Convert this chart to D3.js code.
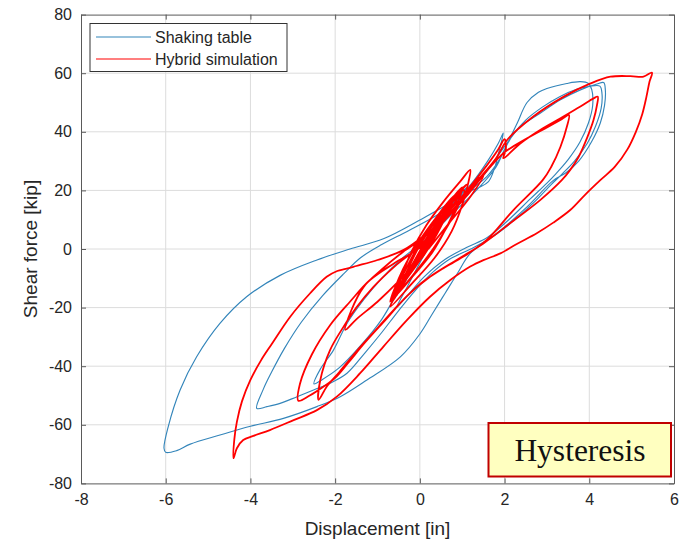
<!DOCTYPE html>
<html><head><meta charset="utf-8">
<script src="https://cdn.jsdelivr.net/npm/d3@7"></script>
<style>body{margin:0;background:#fff} svg{display:block}</style>
</head><body>
<svg id="c" width="690" height="542"></svg>
<script>
// ---- data ----
const xTicks = [-8,-6,-4,-2,0,2,4,6];
const yTicks = [-80,-60,-40,-20,0,20,40,60,80];
const seriesNames = ["Shaking table","Hybrid simulation"];
const xLabel = "Displacement [in]";
const yLabel = "Shear force [kip]";
const noteText = "Hysteresis";

// Shaking table: displacement [in], shear [kip]
const shakingTable = [
[0,0],[0.3,7],[0.6,13],[0.85,18],[0.7,15],[0.35,7],[0,-1],[-0.3,-9],[-0.45,-14],[-0.3,-10],[0.1,1],[0.5,10],[0.9,17],[1.1,21],[0.85,17],[0.4,7],[-0.1,-5],[-0.45,-13],[-0.6,-17],[-0.4,-11],[0,-1],[0.45,9],[0.8,16],
[1.2,22],[1.6,30],[1.85,36],[1.97,39.6],[1.88,34],[1.75,27],[1.62,23],[1.4,21],[1.15,19.5],[0.7,13],[0.3,5],[-0.1,-4],[-0.5,-14],[-0.9,-24],[-1.4,-33],[-1.9,-40.5],[-2.3,-44.5],[-2.5,-46],
[-2.35,-41],[-2.04,-34.5],[-1.72,-25.4],[-1.33,-17.4],[-0.9,-10],[-0.4,-3],[0.2,4],[0.8,12.5],[1.4,21],[1.8,28],[2.0,34],[2.2,39],[2.5,44],[2.9,48.5],[3.3,52],[3.7,54.5],[4.0,55.5],[4.25,55.6],
[4.3,53],[4.28,48],[4.15,42],[3.95,36],[3.65,30],[3.35,25.5],[3.1,22],[2.7,16],[2.2,9.5],[1.7,4],[1.2,0],[0.7,-3.5],[0.3,-8],[-0.1,-14],[-0.5,-21],[-0.9,-28.5],[-1.3,-35.5],[-1.72,-42.4],[-2.12,-45.8],[-2.51,-48.1],[-2.9,-50.4],[-3.3,-52.7],[-3.61,-53.8],[-3.85,-54.4],
[-3.7,-48],[-3.5,-42],[-3.2,-34],[-2.8,-25],[-2.3,-16],[-1.8,-8.5],[-1.4,-3],[-0.9,1.5],[-0.3,6],[0.4,11.5],[1.0,17.5],[1.5,25],[1.9,33],[2.1,37],[2.37,41.7],[2.84,46.3],[3.32,50.9],[3.79,54.3],[4.18,56.3],[4.34,56.8],
[4.38,54],[4.36,49],[4.26,43],[4.05,36.5],[3.75,30],[3.45,26],[3.16,23.5],[2.53,14.4],[1.82,5.4],[1.19,-1.5],[0.9,-8],[0.6,-15],[0.3,-22],[0,-29],[-0.46,-36.8],[-1.25,-44.7],[-1.88,-50.4],[-2.43,-53.8],[-3.22,-57.8],[-4.0,-60.5],[-4.72,-63.5],[-5.42,-66.6],[-5.74,-68.8],[-6.0,-69.4],
[-6.04,-68],[-5.94,-60.6],[-5.66,-48.1],[-5.27,-36.8],[-4.72,-25.4],[-4.09,-16.3],[-3.3,-9],[-2.43,-3.75],[-1.65,0],[-0.86,3.5],[0,9.9],[0.95,17.8],[1.58,24.7],[1.9,31],[2.1,37],[2.3,43],[2.53,50],[2.8,53.5],[3.0,54.8],[3.47,56.5],[3.79,57.1],[3.98,56.5],
[4.06,54.3],[4.08,49],[3.98,43],[3.78,36.5],[3.5,30.5],[3.2,25.5],[3.0,22.5],[2.6,17],[2.1,10],[1.6,4],[1.1,0.5],[0.6,-3.5],[0.1,-9.5],[-0.3,-16],[-0.55,-20],[-0.3,-13],[0.1,-2],[0.5,8],[0.7,12]
];

// Hybrid simulation: displacement [in], shear [kip]
const hybridSimulation = [
[0,0],[0.4,9],[0.8,17],[1.1,22],[0.9,19],[0.45,9],[-0.1,-4],[-0.5,-14],[-0.7,-19.7],
[-0.2,-12],[0.35,-3],[0.75,6],[1.0,15],[1.15,23],[1.19,27],[0.95,23],[0.55,16],[0.15,8],[-0.2,-1],[-0.45,-10],[-0.65,-17],
[-0.15,-9],[0.3,-1],[0.65,8],[0.9,16],[1.0,21],[0.75,17],[0.35,10],[0,2],[-0.3,-6],[-0.55,-14],
[-0.1,-6],[0.25,2],[0.55,10],[0.8,17],[0.65,15],[0.3,8],[-0.05,0],[-0.35,-9],[-0.6,-16],
[0,-6],[0.45,3],[0.85,13],[1.05,20],[0.8,18],[0.4,11],[0,3],[-0.4,-7],[-0.7,-18],
[-0.3,-9],[0.1,-2],[0.4,5],[0.6,11],[0.4,8],[0.1,1],[-0.2,-6],[-0.5,-13],
[0,-1],[0.5,11],[0.95,20],[0.75,16],[0.3,6],[-0.2,-7],[-0.55,-16],[-0.35,-10],[0.15,3],[0.65,14],[1.0,20],[0.65,12],[0.1,0],[-0.35,-11],[-0.65,-18],[-0.45,-12],[0.05,0],[0.55,12],[0.9,18],[0.5,8],
[0,-3],[-0.5,-11],[-1.0,-18],[-1.5,-24],[-1.76,-27.6],[-1.62,-21],[-1.33,-13],[-0.9,-7],[-0.4,-1],[0.1,4],
[0.5,10],[1.0,18],[1.5,27],[1.85,34],[2.0,37.5],[2.03,34],[1.97,31],[2.37,36],[2.84,40.6],[3.32,44.6],[3.79,48.6],[4.1,51.4],[4.2,52],
[4.18,49],[4.1,44],[3.95,38],[3.75,31.5],[3.55,27],[3.35,23.5],[2.84,16.7],[2.13,8.8],[1.5,1.9],[0.87,-3.75],[0.24,-9.5],[-0.3,-16],[-0.8,-24],[-1.3,-32],[-1.7,-39],[-2.0,-44],[-2.28,-47],[-2.6,-50],[-2.87,-51.8],
[-2.83,-46],[-2.55,-36],[-2.12,-26],[-1.65,-18],[-1.17,-10.5],[-0.62,-5],[0,0.5],[0.6,10],[1.1,18],[1.6,27],[2.0,33],[2.5,37.5],[3.0,41.5],[3.35,44.3],[3.52,45.7],
[3.47,41.7],[3.32,34.9],[3.1,28],[2.9,23.5],[2.21,13.3],[1.58,3.1],[1.03,-2.6],[0.5,-7],[0,-12],[-0.5,-19],[-1.0,-27],[-1.5,-35],[-1.9,-42],[-2.2,-47],[-2.39,-51.5],
[-2.35,-44.7],[-2.12,-34.5],[-1.8,-26.5],[-1.5,-20],[-1.1,-13],[-0.6,-6],[0,1],[0.5,9],[1.0,17],[1.4,24],[1.8,31],[2.06,37.2],[2.68,45.2],[3.4,52],[4.03,56.5],[4.5,58.8],[4.97,59],[5.28,58.8],[5.48,60.2],
[5.42,57],[5.35,52],[5.25,46],[5.1,40],[4.9,34],[4.6,28],[4.26,23.5],[3.9,18.5],[3.55,13.3],[3.15,9],[2.76,5.4],[2.3,1.8],[1.9,-1.5],[1.5,-3.8],[1.19,-6],[0.72,-10.6],[0.24,-16.3],[-0.3,-24.2],[-0.86,-33.3],[-1.41,-42.4],[-1.96,-50.4],[-2.43,-55],[-2.98,-58.4],[-3.54,-61.8],[-3.93,-63.8],[-4.17,-65.2],[-4.32,-68],[-4.4,-71.4],
[-4.38,-65],[-4.32,-59],[-4.2,-52],[-4.0,-44.7],[-3.75,-38],[-3.5,-32.5],[-3.06,-23.1],[-2.59,-15.1],[-2.2,-9.5],[-1.95,-7.5],[-1.75,-6.8],[-1.5,-5.8],[-1.0,-3.75],[-0.38,-0.3],[0.17,5.4],[0.8,13.3],[1.27,22.4],[1.5,25],[1.2,18],[0.7,9],[0.2,0]
];

// ---- drawing ----
const svg = d3.select("#c");
const L = 81, R = 674, T = 14.6, B = 483.4;
const x = d3.scaleLinear().domain([-8,6]).range([L,R]);
const y = d3.scaleLinear().domain([-80,80]).range([B,T]);
const axisCol = "#5a5a5a", textCol = "#262626";

svg.append("rect").attr("x",L).attr("y",T).attr("width",R-L).attr("height",B-T).attr("fill","#fff");

// grid
const grid = svg.append("g").attr("stroke","#dcdcdc").attr("stroke-width",1);
grid.selectAll("line.v").data(xTicks.slice(1,-1)).join("line")
  .attr("x1",d=>x(d)).attr("x2",d=>x(d)).attr("y1",T).attr("y2",B);
grid.selectAll("line.h").data(yTicks.slice(1,-1)).join("line").attr("class","h")
  .attr("y1",d=>y(d)).attr("y2",d=>y(d)).attr("x1",L).attr("x2",R);

// curves
svg.append("clipPath").attr("id","clip").append("rect").attr("x",L).attr("y",T).attr("width",R-L).attr("height",B-T);
const line = d3.line().x(d=>x(d[0])).y(d=>y(d[1])).curve(d3.curveCatmullRom.alpha(0.5));
const plot = svg.append("g").attr("clip-path","url(#clip)");
plot.append("path").datum(shakingTable).attr("d",line).attr("fill","none")
  .attr("stroke","#3385ba").attr("stroke-width",1.15).attr("stroke-linejoin","round");
plot.append("path").datum(hybridSimulation).attr("d",line).attr("fill","none")
  .attr("stroke","#ff0000").attr("stroke-width",1.8).attr("stroke-linejoin","round");

// axes (MATLAB style: ticks inside, box)
function styleAxis(g){
  g.selectAll("path.domain").attr("stroke",axisCol);
  g.selectAll(".tick line").attr("stroke",axisCol);
  g.selectAll(".tick text").attr("fill",textCol).attr("font-family","'Liberation Sans', Arial, sans-serif").attr("font-size",16);
}
svg.append("g").attr("transform",`translate(0,${B})`)
  .call(d3.axisBottom(x).tickValues(xTicks).tickSizeInner(-5).tickSizeOuter(0).tickPadding(10).tickFormat(d3.format("d")))
  .call(styleAxis);
svg.append("g").attr("transform",`translate(0,${T})`)
  .call(d3.axisTop(x).tickValues(xTicks).tickSizeInner(-5).tickSizeOuter(0).tickFormat(""))
  .call(styleAxis);
svg.append("g").attr("transform",`translate(${L},0)`)
  .call(d3.axisLeft(y).tickValues(yTicks).tickSizeInner(-5).tickSizeOuter(0).tickPadding(9).tickFormat(d3.format("d")))
  .call(styleAxis);
svg.append("g").attr("transform",`translate(${R},0)`)
  .call(d3.axisRight(y).tickValues(yTicks).tickSizeInner(-5).tickSizeOuter(0).tickFormat(""))
  .call(styleAxis);
svg.selectAll(".tick text").text(function(){return this.textContent.replace("\u2212","-");});

// axis labels
svg.append("text").attr("x",(L+R)/2).attr("y",535).attr("text-anchor","middle")
  .attr("font-family","'Liberation Sans', Arial, sans-serif").attr("font-size",19).attr("fill",textCol).text(xLabel);
svg.append("text").attr("transform",`translate(37,${(T+B)/2}) rotate(-90)`).attr("text-anchor","middle")
  .attr("font-family","'Liberation Sans', Arial, sans-serif").attr("font-size",19).attr("fill",textCol).text(yLabel);

// legend
const lg = svg.append("g");
lg.append("rect").attr("x",90).attr("y",23.5).attr("width",197).attr("height",48)
  .attr("fill","#fff").attr("stroke","#333").attr("stroke-width",1);
const legCols = ["#3385ba","#ff0000"];
seriesNames.forEach((n,i)=>{
  const yy = 37 + i*22;
  lg.append("line").attr("x1",96).attr("x2",151).attr("y1",yy).attr("y2",yy).attr("stroke",legCols[i]).attr("stroke-width",1.2);
  lg.append("text").attr("x",155).attr("y",yy+5.5).attr("font-family","'Liberation Sans', Arial, sans-serif")
    .attr("font-size",16).attr("fill",textCol).text(n);
});

// annotation box
svg.append("rect").attr("x",488.5).attr("y",423).attr("width",182.5).attr("height",53.5)
  .attr("fill","#ffffc0").attr("stroke","#c00000").attr("stroke-width",2);
svg.append("text").attr("x",580).attr("y",460.5).attr("text-anchor","middle")
  .attr("font-family","'Liberation Serif', 'Times New Roman', serif").attr("font-size",31.5).attr("fill","#111").text(noteText);
</script>
</body></html>
